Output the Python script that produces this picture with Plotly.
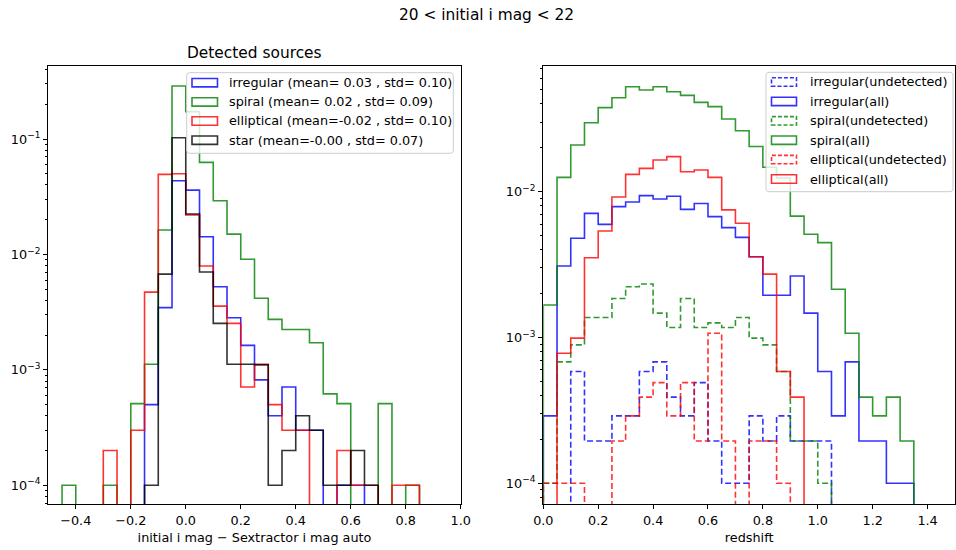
import plotly.graph_objects as go

# ---------------- data ----------------
# Left panel: normalised histograms of (initial i mag - SExtractor i mag auto)
mag_diff_edges = [-0.45, -0.40, -0.35, -0.30, -0.25, -0.20, -0.15, -0.10, -0.05,
                  0.00, 0.05, 0.10, 0.15, 0.20, 0.25, 0.30, 0.35, 0.40, 0.45,
                  0.50, 0.55, 0.60, 0.65, 0.70, 0.75, 0.80, 0.85]

irregular_detected = [0, 0, 0, 0, 0, 0, 5.0e-4, 3.46e-3, 0.0435, 0.0361, 0.01426,
                      5.26e-3, 2.83e-3, 1.63e-3, 8.2e-4, 4.0e-4, 7.1e-4, 3.0e-4,
                      3.0e-4, 0, 1.0e-4, 1.0e-4, 0, 0, 0, 0]
spiral_detected = [1.0e-4, 0, 0, 1.0e-4, 0, 5.1e-4, 1.12e-3, 0.0163, 0.288, 0.173,
                   0.0628, 0.0292, 0.0150, 9.08e-3, 4.17e-3, 2.74e-3, 2.24e-3,
                   2.24e-3, 1.72e-3, 6.2e-4, 5.1e-4, 0, 0, 5.1e-4, 0, 1.0e-4]
elliptical_detected = [0, 0, 0, 2.0e-4, 0, 3.0e-4, 4.72e-3, 0.0494, 0.0500, 0.0220,
                       7.94e-3, 3.57e-3, 2.53e-3, 7.1e-4, 1.11e-3, 5.0e-4, 3.0e-4,
                       3.0e-4, 0, 0, 2.0e-4, 1.0e-4, 1.0e-4, 0, 1.0e-4, 1.0e-4]
star_detected = [0, 0, 0, 0, 0, 0, 1.0e-4, 6.76e-3, 0.1026, 0.0224, 7.05e-3,
                 2.53e-3, 1.12e-3, 1.12e-3, 1.11e-3, 1.0e-4, 2.0e-4, 4.0e-4,
                 3.0e-4, 1.0e-4, 1.0e-4, 2.0e-4, 1.0e-4, 0, 0, 0]

left_labels = ["irregular (mean= 0.03 , std= 0.10)",
               "spiral (mean= 0.02 , std= 0.09)",
               "elliptical (mean=-0.02 , std= 0.10)",
               "star (mean=-0.00 , std= 0.07)"]

# Right panel: normalised redshift histograms
redshift_edges = [0.00, 0.05, 0.10, 0.15, 0.20, 0.25, 0.30, 0.35, 0.40, 0.45,
                  0.50, 0.55, 0.60, 0.65, 0.70, 0.75, 0.80, 0.85, 0.90, 0.95,
                  1.00, 1.05, 1.10, 1.15, 1.20, 1.25, 1.30, 1.35]

irregular_undetected = [0, 0, 5.84e-4, 1.95e-4, 1.95e-4, 2.9e-4, 2.9e-4, 5.84e-4,
                        6.8e-4, 3.9e-4, 2.9e-4, 4.9e-4, 1.95e-4, 1.0e-4, 1.0e-4,
                        2.9e-4, 1.95e-4, 2.9e-4, 1.95e-4, 1.95e-4, 1.95e-4,
                        0, 0, 0, 0, 0, 0]
irregular_all = [2.9e-4, 3.09e-3, 4.79e-3, 7.1e-3, 5.97e-3, 7.9e-3, 8.5e-3, 9.4e-3,
                 8.9e-3, 9.3e-3, 7.56e-3, 8.3e-3, 6.74e-3, 5.67e-3, 4.86e-3,
                 3.58e-3, 1.95e-3, 1.95e-3, 2.64e-3, 1.47e-3, 5.84e-4, 2.9e-4,
                 6.8e-4, 1.95e-4, 1.95e-4, 1.0e-4, 1.0e-4]
spiral_undetected = [1.0e-4, 6.8e-4, 8.9e-4, 1.37e-3, 1.37e-3, 1.85e-3, 2.23e-3,
                     2.33e-3, 1.47e-3, 1.17e-3, 1.85e-3, 1.17e-3, 1.26e-3, 1.17e-3,
                     1.37e-3, 9.9e-4, 8.9e-4, 5.84e-4, 1.95e-4, 1.95e-4, 1.0e-4,
                     0, 0, 0, 0, 0, 0]
spiral_all = [1.67e-3, 0.01254, 0.0209, 0.0297, 0.0377, 0.0441, 0.0525, 0.0498,
              0.0525, 0.0485, 0.0458, 0.0410, 0.0383, 0.0315, 0.0262, 0.0204,
              0.0147, 0.0124, 6.8e-3, 5.1e-3, 4.47e-3, 2.14e-3, 1.07e-3, 3.9e-4,
              2.9e-4, 3.9e-4, 1.95e-4]
elliptical_undetected = [1.0e-4, 1.0e-4, 1.0e-4, 0, 0, 1.95e-4, 2.9e-4, 3.9e-4,
                         4.9e-4, 2.9e-4, 4.9e-4, 1.95e-4, 1.07e-3, 1.95e-4, 0,
                         1.95e-4, 1.95e-4, 1.0e-4, 0, 0, 0, 0, 0, 0, 0, 0, 0]
elliptical_all = [0, 7.8e-4, 9.9e-4, 3.52e-3, 5.37e-3, 9.2e-3, 0.01315, 0.01445,
                  0.0165, 0.0174, 0.0137, 0.0141, 0.01254, 7.5e-3, 6.07e-3,
                  3.58e-3, 2.72e-3, 5.84e-4, 3.9e-4, 0, 0, 0, 0, 0, 0, 0, 0]

right_labels = ["irregular(undetected)", "irregular(all)",
                "spiral(undetected)", "spiral(all)",
                "elliptical(undetected)", "elliptical(all)"]

# Tick labels
left_xticks = [-0.4, -0.2, 0.0, 0.2, 0.4, 0.6, 0.8, 1.0]
left_xticktext = ["\u22120.4", "\u22120.2", "0.0", "0.2", "0.4", "0.6", "0.8", "1.0"]
right_xticks = [0.0, 0.2, 0.4, 0.6, 0.8, 1.0, 1.2, 1.4]
right_xticktext = ["0.0", "0.2", "0.4", "0.6", "0.8", "1.0", "1.2", "1.4"]
left_yticks = [1e-4, 1e-3, 1e-2, 1e-1]
left_yticktext = ["10<sup>\u22124</sup>", "10<sup>\u22123</sup>",
                  "10<sup>\u22122</sup>", "10<sup>\u22121</sup>"]
right_yticks = [1e-4, 1e-3, 1e-2]
right_yticktext = ["10<sup>\u22124</sup>", "10<sup>\u22123</sup>", "10<sup>\u22122</sup>"]

# ---------------- styling helpers ----------------
W, H = 956, 550
FONT = "DejaVu Sans"
FS = 12.8       # body text (ticks, labels, legend)
FS_TITLE = 15.4  # titles
BLUE, GREEN, RED, BLACK = "#0000ff", "#008000", "#ff0000", "#000000"
LW = 1.6
ALPHA = 0.8
FLOOR = 1e-9  # empty bins drop below the visible log range


def px(x):
    return x / W


def py(y):
    return 1 - y / H


def step_outline(edges, values):
    """Outline of a step histogram (like histtype='step')."""
    vals = [v if v > 0 else FLOOR for v in values]
    n = len(vals)
    xs = [edges[0]] + list(edges[:n]) + [edges[n], edges[n]]
    ys = [FLOOR] + vals + [vals[-1], FLOOR]
    return xs, ys


fig = go.Figure()


def add_hist(edges, values, color, dash, xa, ya):
    xs, ys = step_outline(edges, values)
    fig.add_trace(go.Scatter(
        x=xs, y=ys, mode="lines",
        line=dict(shape="hv", color=color, width=LW, dash=dash),
        opacity=ALPHA, showlegend=False, hoverinfo="skip",
        xaxis=xa, yaxis=ya))


DASH = "6px,3px"

left_series = [(irregular_detected, BLUE), (spiral_detected, GREEN),
               (elliptical_detected, RED), (star_detected, BLACK)]
for vals, col in left_series:
    add_hist(mag_diff_edges, vals, col, "solid", "x", "y")

right_series = [(irregular_undetected, BLUE, DASH), (irregular_all, BLUE, "solid"),
                (spiral_undetected, GREEN, DASH), (spiral_all, GREEN, "solid"),
                (elliptical_undetected, RED, DASH), (elliptical_all, RED, "solid")]
for vals, col, dsh in right_series:
    add_hist(redshift_edges, vals, col, dsh, "x2", "y2")

# ---------------- axes ----------------
L_X0, L_X1 = 48.3, 460.7
R_X0, R_X1 = 543.3, 955.0
Y_TOP, Y_BOT = 66.0, 504.0


def minor_vals(lo_exp, hi_exp):
    return [m * 10.0 ** e for e in range(lo_exp, hi_exp + 1) for m in range(2, 10)]


tickfont = dict(family=FONT, size=FS, color="black")
common_x = dict(showgrid=False, zeroline=False, showline=True, mirror=True,
                linecolor="black", linewidth=1, ticks="outside", ticklen=4.4,
                tickwidth=1, tickcolor="black", tickfont=tickfont,
                tickmode="array", automargin=False)
common_y = dict(type="log", showgrid=False, zeroline=False, showline=True,
                mirror=True, linecolor="black", linewidth=1, ticks="outside",
                ticklen=4.4, tickwidth=1, tickcolor="black", tickfont=tickfont,
                tickmode="array", automargin=False)

fig.update_layout(
    width=W, height=H,
    margin=dict(l=0, r=0, t=0, b=0, pad=0, autoexpand=False),
    paper_bgcolor="white", plot_bgcolor="white",
    font=dict(family=FONT, size=FS, color="black"),
    xaxis=dict(domain=[px(L_X0), px(L_X1)], range=[-0.5, 1.0],
               tickvals=left_xticks, ticktext=left_xticktext,
               title=dict(text="initial i mag \u2212 Sextractor i mag auto",
                          font=dict(family=FONT, size=FS, color="black"),
                          standoff=6),
               anchor="y", **common_x),
    yaxis=dict(domain=[py(Y_BOT), py(Y_TOP)], range=[-4.162, -0.367],
               tickvals=left_yticks, ticktext=left_yticktext, anchor="x",
               minor=dict(tickmode="array", tickvals=minor_vals(-5, -1),
                          ticks="outside", ticklen=2.5, tickwidth=0.8,
                          tickcolor="black", showgrid=False),
               **common_y),
    xaxis2=dict(domain=[px(R_X0), px(R_X1)], range=[0.0, 1.5],
                tickvals=right_xticks, ticktext=right_xticktext,
                title=dict(text="redshift",
                           font=dict(family=FONT, size=FS, color="black"),
                           standoff=6),
                anchor="y2", **common_x),
    yaxis2=dict(domain=[py(Y_BOT), py(Y_TOP)], range=[-4.142, -1.138],
                tickvals=right_yticks, ticktext=right_yticktext, anchor="x2",
                minor=dict(tickmode="array", tickvals=minor_vals(-5, -2),
                           ticks="outside", ticklen=2.5, tickwidth=0.8,
                           tickcolor="black", showgrid=False),
                **common_y),
)

# ---------------- titles ----------------
annotations = [
    dict(text="20 &lt; initial i mag &lt; 22", x=px(486), y=py(15),
         xref="paper", yref="paper", showarrow=False, xanchor="center",
         yanchor="middle", font=dict(family=FONT, size=FS_TITLE, color="black")),
    dict(text="Detected sources", x=px((L_X0 + L_X1) / 2), y=py(52.5),
         xref="paper", yref="paper", showarrow=False, xanchor="center",
         yanchor="middle", font=dict(family=FONT, size=FS_TITLE, color="black")),
]

# ---------------- legends (outlined patches, as in a step histogram) ----------------
shapes = []


def rounded_box(x0, y0, x1, y1, r=3):
    X0, X1 = px(x0), px(x1)
    Y0, Y1 = py(y0), py(y1)
    rx, ry = r / W, r / H
    path = (f"M{X0 + rx},{Y0} L{X1 - rx},{Y0} Q{X1},{Y0} {X1},{Y0 - ry} "
            f"L{X1},{Y1 + ry} Q{X1},{Y1} {X1 - rx},{Y1} L{X0 + rx},{Y1} "
            f"Q{X0},{Y1} {X0},{Y1 + ry} L{X0},{Y0 - ry} Q{X0},{Y0} {X0 + rx},{Y0} Z")
    shapes.append(dict(type="path", path=path, xref="paper", yref="paper",
                       line=dict(color="#cccccc", width=1),
                       fillcolor="rgba(255,255,255,0.8)", layer="above"))


def legend_entry(row_y, patch_x0, patch_x1, text_x, label, color, dash):
    shapes.append(dict(type="rect", xref="paper", yref="paper",
                       x0=px(patch_x0), x1=px(patch_x1),
                       y0=py(row_y + 4.2), y1=py(row_y - 4.2),
                       line=dict(color=color, width=LW,
                                 dash="4px,2px" if dash != "solid" else "solid"),
                       opacity=ALPHA, fillcolor="rgba(0,0,0,0)", layer="above"))
    annotations.append(dict(text=label, x=px(text_x), y=py(row_y),
                            xref="paper", yref="paper", showarrow=False,
                            xanchor="left", yanchor="middle",
                            font=dict(family=FONT, size=FS, color="black")))


rounded_box(186.7, 72.7, 453.3, 153.3)
left_rows = [82.7, 101.9, 121.0, 140.2]
for (vals, col), lab, ry in zip(left_series, left_labels, left_rows):
    legend_entry(ry, 192.0, 217.5, 227.3, lab, col, "solid")

rounded_box(766.0, 72.3, 953.0, 191.7)
right_rows = [82.0, 101.4, 120.8, 140.2, 159.6, 179.0]
for (vals, col, dsh), lab, ry in zip(right_series, right_labels, right_rows):
    legend_entry(ry, 771.5, 796.5, 807.7, lab, col, dsh)

fig.update_layout(annotations=annotations, shapes=shapes)

fig.write_html("out.html", config={"displayModeBar": False})
